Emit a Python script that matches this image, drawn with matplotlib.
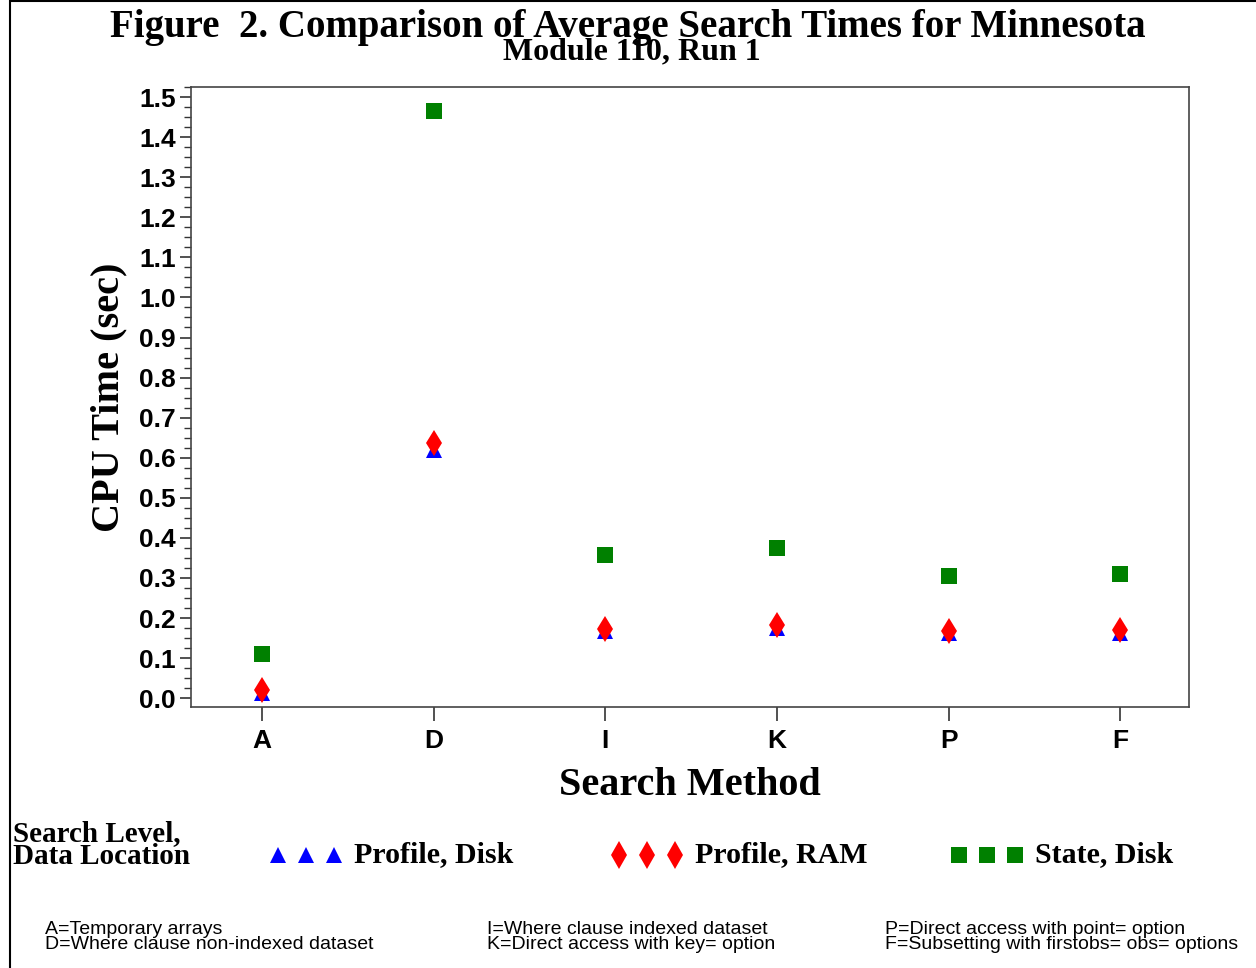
import matplotlib
matplotlib.use("Agg")
import matplotlib.pyplot as plt
from matplotlib.lines import Line2D
from matplotlib.patches import Rectangle
from matplotlib.ticker import MultipleLocator

# ── Data ──────────────────────────────────────────────────────────────────
methods = ["A", "D", "I", "K", "P", "F"]
profile_disk = [0.012, 0.620, 0.167, 0.175, 0.162, 0.162]
profile_ram = [0.020, 0.636, 0.172, 0.182, 0.167, 0.170]
state_disk = [0.110, 1.465, 0.357, 0.374, 0.304, 0.309]

series_labels = ["Profile, Disk", "Profile, RAM", "State, Disk"]
footnotes = [
    "A=Temporary arrays\nD=Where clause non-indexed dataset",
    "I=Where clause indexed dataset\nK=Direct access with key= option",
    "P=Direct access with point= option\nF=Subsetting with firstobs= obs= options",
]

SERIF = "Liberation Serif"
SANS = "Liberation Sans"

# ── Figure setup ──────────────────────────────────────────────────────────
fig = plt.figure(figsize=(12.56, 9.68), dpi=100)
ax = fig.add_axes([0.152, 0.2696, 0.7946, 0.6405])

x = list(range(len(methods)))
ax.plot(x, profile_disk, linestyle="none", marker="^", markersize=11,
        color="blue", markeredgewidth=0, zorder=3)
ax.plot(x, profile_ram, linestyle="none", marker="d", markersize=13,
        color="red", markeredgewidth=0, zorder=4)
ax.plot(x, state_disk, linestyle="none", marker="s", markersize=11,
        color="green", markeredgewidth=0, zorder=3)

ax.set_xlim(-0.414, 5.40)
ax.set_ylim(-0.022, 1.525)
ax.set_xticks(x)
ax.set_xticklabels(methods, fontfamily=SANS, fontweight="bold", fontsize=19)
ax.yaxis.set_minor_locator(MultipleLocator(0.025))
ax.set_yticks([i / 10 for i in range(16)])
ax.set_yticklabels([f"{i / 10:.1f}" for i in range(16)],
                   fontfamily=SANS, fontweight="bold", fontsize=19)
ax.tick_params(axis="x", length=10, width=1.2, pad=6, color="#333333")
ax.tick_params(axis="y", which="major", length=8, width=1.2, pad=3,
               color="#333333")
ax.tick_params(axis="y", which="minor", length=5, width=1.0, color="#333333")
for s in ax.spines.values():
    s.set_color("#444444")
    s.set_linewidth(1.2)

ax.set_xlabel("Search Method", fontfamily=SERIF, fontweight="bold",
              fontsize=29, labelpad=10)
ax.set_ylabel("CPU Time (sec)", fontfamily=SERIF, fontweight="bold",
              fontsize=29, labelpad=8)

# ── Titles ────────────────────────────────────────────────────────────────
fig.text(0.5, 0.972, "Figure  2. Comparison of Average Search Times for Minnesota",
         ha="center", va="center", fontfamily=SERIF, fontweight="bold",
         fontsize=28)
fig.text(0.503, 0.946, "Module 110, Run 1", ha="center", va="center",
         fontfamily=SERIF, fontweight="bold", fontsize=23)

# ── Legend (manual) ───────────────────────────────────────────────────────
fig.text(13 / 1256, 1 - 845 / 968, "Search Level,\nData Location",
         ha="left", va="center", fontfamily=SERIF, fontweight="bold",
         fontsize=21, linespacing=0.8)
leg_specs = [("^", "blue", 12, 278), ("d", "red", 14, 619),
             ("s", "green", 11, 959)]
ly = 1 - 855 / 968
for (mk, col, ms, x0), lab in zip(leg_specs, series_labels):
    for k in range(3):
        fig.add_artist(Line2D([(x0 + 28 * k) / 1256], [ly], marker=mk,
                              color=col, markersize=ms, markeredgewidth=0,
                              linestyle="none", transform=fig.transFigure))
    fig.text((x0 + 76) / 1256, ly, lab, ha="left", va="center",
             fontfamily=SERIF, fontweight="bold", fontsize=21.5)

# ── Footnotes ─────────────────────────────────────────────────────────────
for xp, note in zip([45, 487, 885], footnotes):
    fig.text(xp / 1256, 1 - 937 / 968, note, ha="left", va="center",
             fontfamily=SANS, fontsize=14, linespacing=0.9)

# ── Outer border ──────────────────────────────────────────────────────────
fig.add_artist(Rectangle((10 / 1256, -0.01), 1.2, 1.0085, fill=False,
                         edgecolor="black", linewidth=1.5,
                         transform=fig.transFigure))

fig.savefig("out.png", dpi=100)
